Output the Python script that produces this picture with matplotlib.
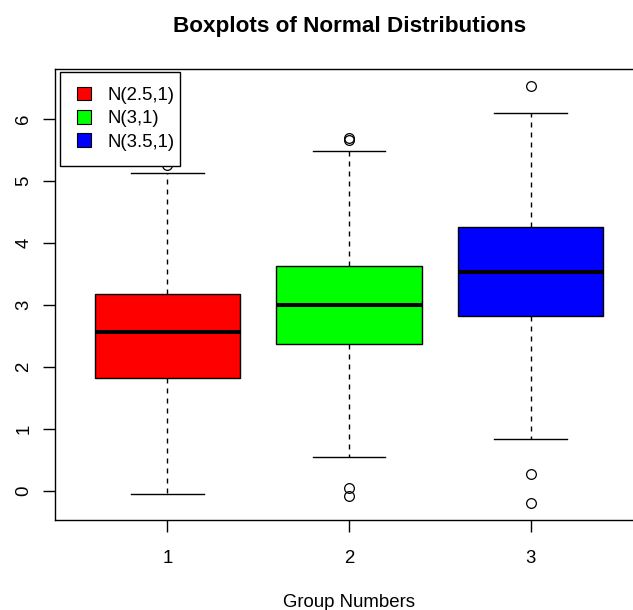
import matplotlib
matplotlib.use("Agg")
import matplotlib.pyplot as plt
from matplotlib.patches import Patch, Rectangle
from matplotlib.legend_handler import HandlerPatch

plt.rcParams["font.family"] = ["Liberation Sans", "DejaVu Sans"]
plt.rcParams["lines.scale_dashes"] = False

# Summary statistics of the three samples
groups = ["1", "2", "3"]
legend_labels = ["N(2.5,1)", "N(3,1)", "N(3.5,1)"]
colors = ["#FF0000", "#00FF00", "#0000FF"]
q1 = [1.82, 2.37, 2.82]
medians = [2.56, 3.00, 3.53]
q3 = [3.18, 3.63, 4.25]
whisker_low = [-0.05, 0.54, 0.84]
whisker_high = [5.13, 5.48, 6.09]
outliers = [[5.25], [0.04, -0.08, 5.66, 5.69], [0.27, -0.20, 6.53]]
y_ticks = [0, 1, 2, 3, 4, 5, 6]

stats = []
for i, g in enumerate(groups):
    stats.append(dict(label=g, q1=q1[i], med=medians[i], q3=q3[i],
                      whislo=whisker_low[i], whishi=whisker_high[i],
                      fliers=outliers[i]))

fig = plt.figure(figsize=(6.33, 6.10), dpi=100)
ax_w_px, ax_h_px = 588.5, 450.7
ax = fig.add_axes([0.0867, 0.1475, ax_w_px / 633, ax_h_px / 610])

lw = 1.0
bp = ax.bxp(stats, positions=[1, 2, 3], widths=0.8, capwidths=0.4,
            patch_artist=True,
            boxprops=dict(edgecolor="black", linewidth=lw),
            whiskerprops=dict(color="black", linewidth=lw, linestyle=(0, (3.6, 3.6))),
            capprops=dict(color="black", linewidth=lw),
            medianprops=dict(color="black", linewidth=2.9, solid_capstyle="butt"),
            flierprops=dict(marker="o", markersize=7.0, markerfacecolor="none",
                            markeredgecolor="black", markeredgewidth=0.9,
                            linestyle="none"))
for box, c in zip(bp["boxes"], colors):
    box.set_facecolor(c)

# R-style axis ranges: 4% padding around data extent
all_vals = [v for s in stats for v in [s["whislo"], s["whishi"], *s["fliers"]]]
lo, hi = min(all_vals), max(all_vals)
pad = 0.04 * (hi - lo)
ax.set_ylim(lo - pad, hi + pad)
ax.set_xlim(0.5 - 0.04 * 3, 3.5 + 0.04 * 3)

ax.set_xticks([1, 2, 3], groups)
ax.set_yticks(y_ticks, [str(t) for t in y_ticks])
for lab in ax.get_yticklabels():
    lab.set_rotation(90)
    lab.set_va("center")
ax.tick_params(axis="both", direction="out", length=8.4, width=lw,
               labelsize=13.4, color="black")
ax.tick_params(axis="x", pad=13.3)
ax.tick_params(axis="y", pad=7.9)

for side in ["left", "top", "bottom", "right"]:
    ax.spines[side].set_linewidth(lw)
    ax.spines[side].set_color("black")

ax.set_title("Boxplots of Normal Distributions", fontsize=16.2,
             fontweight="bold", pad=27)
ax.set_xlabel("Group Numbers", fontsize=13.4)
ax.xaxis.set_label_coords(0.5, -87 / ax_h_px)
ax.xaxis.label.set_va("baseline")


def square_handle(legend, orig_handle, xdescent, ydescent, width, height, fontsize):
    side = height
    return Rectangle((width - side - xdescent, -ydescent), side, side)


# Legend: tight horizontal padding, roomier vertical padding
fs_px = 13.4 / 72 * 100
hpad_px, vpad_px = 1.0, 10.4
handles = [Patch(facecolor=c, edgecolor="black", linewidth=0.8) for c in colors]
leg = ax.legend(handles, legend_labels, loc="upper left",
                bbox_to_anchor=(6.1 / ax_w_px, 1 - 13.2 / ax_h_px),
                borderaxespad=0, fontsize=13.4, frameon=True, fancybox=False,
                edgecolor="black", framealpha=1, borderpad=4.7 / fs_px,
                handlelength=24.9 / fs_px, handleheight=0.715,
                handletextpad=16.6 / fs_px, labelspacing=6.0 / fs_px,
                handler_map={Patch: HandlerPatch(patch_func=square_handle)})
frame = leg.get_frame()
frame.set_linewidth(lw)
frame.set_boxstyle("square", pad=hpad_px / fs_px)
frame.set_mutation_aspect(vpad_px / hpad_px)

fig.savefig("out.png", dpi=100)
